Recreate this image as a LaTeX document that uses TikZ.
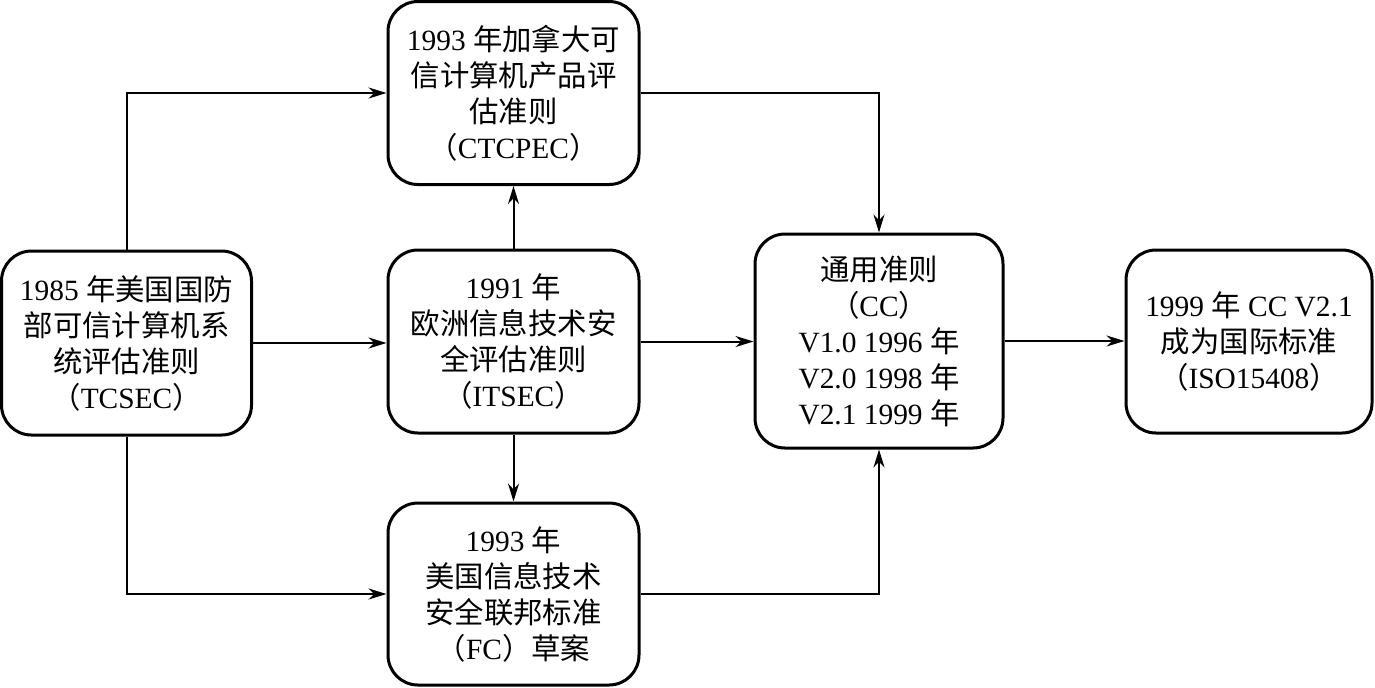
\documentclass[tikz,border=0pt]{standalone}
\usepackage{fontspec}
\setmainfont{Liberation Serif}
\newfontfamily\cjk{Noto Sans CJK SC}
\newcommand{\zh}[1]{{\cjk #1}}
\usetikzlibrary{arrows.meta}
\begin{document}
\begin{tikzpicture}[x=0.5pt,y=-0.5pt,
  box/.style={draw, line width=1.5pt, rounded corners=15pt, align=center,
    font=\fontsize{14.7}{18}\selectfont, inner sep=0pt},
  conn/.style={line width=1pt, -{Stealth[length=9pt,width=5.5pt]}}]
\useasboundingbox (0,0) rectangle (1375,687);
\node[box, minimum width=125pt, minimum height=92pt] (tc) at (126.5,343)
  {1985 \zh{年美国国防}\\\zh{部可信计算机系}\\\zh{统评估准则}\\\zh{（}TCSEC\zh{）}};
\node[box, minimum width=125.5pt, minimum height=91.5pt] (ct) at (513.5,93)
  {1993 \zh{年加拿大可}\\\zh{信计算机产品评}\\\zh{估准则}\\\zh{（}CTCPEC\zh{）}};
\node[box, minimum width=125.5pt, minimum height=91.5pt] (it) at (513.5,341.5)
  {1991 \zh{年}\\\zh{欧洲信息技术安}\\\zh{全评估准则}\\\zh{（}ITSEC\zh{）}};
\node[box, minimum width=125.5pt, minimum height=91pt] (fc) at (513.5,594)
  {1993 \zh{年}\\\zh{美国信息技术}\\\zh{安全联邦标准}\\\zh{（}FC\zh{）草案}};
\node[box, minimum width=124pt, minimum height=107pt] (cc) at (879,341)
  {\zh{通用准则}\\\zh{（}CC\zh{）}\\V1.0 1996 \zh{年}\\V2.0 1998 \zh{年}\\V2.1 1999 \zh{年}};
\node[box, minimum width=123pt, minimum height=91.5pt] (iso) at (1249,341.5)
  {1999 \zh{年} CC V2.1\\\zh{成为国际标准}\\\zh{（}ISO15408\zh{）}};
\draw[conn] (tc.north) |- (ct.west);
\draw[conn] (tc.south) |- (fc.west);
\draw[conn] (tc.east) -- (tc.east -| it.west);
\draw[conn] (it.north) -- (ct.south);
\draw[conn] (it.south) -- (fc.north);
\draw[conn] (it.east) -- (it.east -| cc.west);
\draw[conn] (ct.east) -| (cc.north);
\draw[conn] (fc.east) -| (cc.south);
\draw[conn] (cc.east) -- (cc.east -| iso.west);
\end{tikzpicture}
\end{document}
